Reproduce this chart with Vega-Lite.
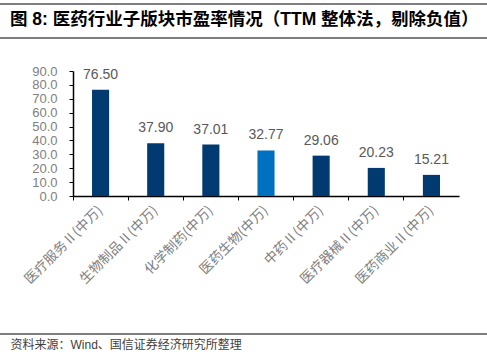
{
  "$schema": "https://vega.github.io/schema/vega-lite/v6.json",
  "width": 386,
  "height": 125,
  "autosize": "none",
  "padding": {"left": 73, "top": 71, "right": 28, "bottom": 163},
  "background": "white",
  "config": {"view": {"stroke": null}, "font": "Liberation Sans, Noto Sans CJK SC"},
  "title": {
    "text": "图 8: 医药行业子版块市盈率情况（TTM 整体法，剔除负值）",
    "anchor": "start",
    "frame": "group",
    "dx": -63,
    "dy": 29,
    "fontSize": 17.5,
    "fontWeight": "bold",
    "color": "#000000",
    "font": "Liberation Sans, Noto Sans CJK SC"
  },
  "data": {
    "values": [
      {"name": "医疗服务Ⅱ(中万)", "pe": 76.50, "group": "sub"},
      {"name": "生物制品Ⅱ(中万)", "pe": 37.90, "group": "sub"},
      {"name": "化学制药(中万)", "pe": 37.01, "group": "sub"},
      {"name": "医药生物(中万)", "pe": 32.77, "group": "all"},
      {"name": "中药Ⅱ(中万)", "pe": 29.06, "group": "sub"},
      {"name": "医疗器械Ⅱ(中万)", "pe": 20.23, "group": "sub"},
      {"name": "医药商业Ⅱ(中万)", "pe": 15.21, "group": "sub"}
    ]
  },
  "encoding": {
    "x": {
      "field": "name",
      "type": "nominal",
      "sort": null,
      "scale": {"paddingInner": 0, "paddingOuter": 0},
      "axis": {
        "title": "资料来源：Wind、国信证券经济研究所整理",
        "titleAnchor": "start",
        "titleAlign": "left",
        "titleBaseline": "middle",
        "titleX": -63,
        "titleY": 148,
        "titleFontSize": 12,
        "titleFontWeight": "normal",
        "titleColor": "#404040",
        "labelAngle": -45,
        "labelAlign": "right",
        "labelBaseline": "middle",
        "labelPadding": 8,
        "labelFontSize": 13.5,
        "labelFont": "Noto Sans CJK SC",
        "labelColor": "#808080",
        "bandPosition": 0,
        "tickSize": 4,
        "tickColor": "#000000",
        "domainColor": "#000000",
        "domainWidth": 1.5
      }
    },
    "y": {
      "field": "pe",
      "type": "quantitative",
      "scale": {"domain": [0, 90]},
      "axis": {
        "title": null,
        "values": [0, 10, 20, 30, 40, 50, 60, 70, 80, 90],
        "format": ".1f",
        "grid": false,
        "tickSize": 4,
        "tickColor": "#000000",
        "domainColor": "#000000",
        "domainWidth": 1.5,
        "labelPadding": 12,
        "labelFontSize": 13,
        "labelColor": "#808080"
      }
    }
  },
  "layer": [
    {
      "mark": {"type": "bar", "width": {"band": 0.31}},
      "encoding": {
        "color": {
          "field": "group",
          "type": "nominal",
          "scale": {"domain": ["sub", "all"], "range": ["#003A70", "#0070C0"]},
          "legend": null
        }
      }
    },
    {
      "mark": {"type": "text", "dy": -11, "baseline": "alphabetic", "fontSize": 14, "color": "#595959"},
      "encoding": {"text": {"field": "pe", "type": "quantitative", "format": ".2f"}}
    },
    {
      "data": {"values": [{}]},
      "mark": {"type": "rule", "color": "#555555", "strokeWidth": 1.5},
      "encoding": {"x": {"value": -73}, "x2": {"value": 414}, "y": {"value": -67}}
    },
    {
      "data": {"values": [{}]},
      "mark": {"type": "rule", "color": "#555555", "strokeWidth": 1.5},
      "encoding": {"x": {"value": -73}, "x2": {"value": 414}, "y": {"value": -33}}
    },
    {
      "data": {"values": [{}]},
      "mark": {"type": "rule", "color": "#555555", "strokeWidth": 1.5},
      "encoding": {"x": {"value": -73}, "x2": {"value": 414}, "y": {"value": 263}}
    }
  ]
}
